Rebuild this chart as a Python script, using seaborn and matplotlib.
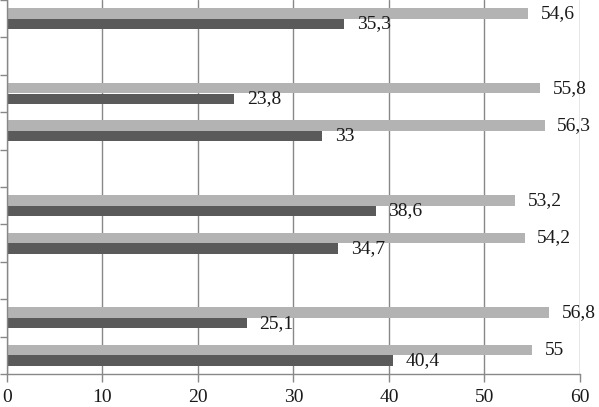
import numpy as np
import pandas as pd
import matplotlib
matplotlib.use("Agg")
import matplotlib.pyplot as plt
import seaborn as sns

# Categories top to bottom (empty ones are spacers in the original chart)
categories = ["g1", "s1", "g2", "g3", "s2", "g4", "g5", "s3", "g6", "g7"]
light_values = [54.6, np.nan, 55.8, 56.3, np.nan, 53.2, 54.2, np.nan, 56.8, 55.0]
dark_values = [35.3, np.nan, 23.8, 33.0, np.nan, 38.6, 34.7, np.nan, 25.1, 40.4]
series = ["A", "B"]
x_ticks = [0, 10, 20, 30, 40, 50, 60]

df = pd.DataFrame({
    "category": categories * 2,
    "series": [series[0]] * len(categories) + [series[1]] * len(categories),
    "value": light_values + dark_values,
})

sns.set_style("white")
plt.rcParams["font.family"] = ["Liberation Serif", "DejaVu Serif"]

fig = plt.figure(figsize=(5.99, 4.07), dpi=100)
ax = fig.add_axes([7 / 599, 33 / 407, 573 / 599, 374 / 407])

sns.barplot(data=df, y="category", x="value", hue="series", order=categories,
            hue_order=series, palette=["#b3b3b3", "#5a5a5a"], orient="h",
            width=0.56, gap=0, legend=False, ax=ax, saturation=1, linewidth=0)

for cont in ax.containers:
    ax.bar_label(cont, fmt=lambda v: "" if np.isnan(v) else f"{v:g}".replace(".", ","),
                 padding=9, fontsize=14, color="#1a1a1a", clip_on=False)

ax.set_xlim(0, 60)
ax.set_ylim(len(categories) - 0.5, -0.5)
ax.set_xticks(x_ticks)
ax.set_xticklabels([str(t) for t in x_ticks], fontsize=14, color="#1a1a1a")
ax.set_yticks(np.arange(-0.5, len(categories) + 0.5, 1.0))
ax.set_yticklabels([])
ax.set_xlabel("")
ax.set_ylabel("")

ax.grid(axis="x", color="#888888", linewidth=1)
ax.set_axisbelow(True)
for side in ["top", "right"]:
    ax.spines[side].set_visible(False)
for side in ["left", "bottom"]:
    ax.spines[side].set_color("#888888")
    ax.spines[side].set_linewidth(1)
ax.tick_params(axis="x", length=6, width=1, color="#888888", pad=5, bottom=True)
ax.tick_params(axis="y", length=5, width=1, color="#888888", left=True)

fig.savefig("out.png", dpi=100)
